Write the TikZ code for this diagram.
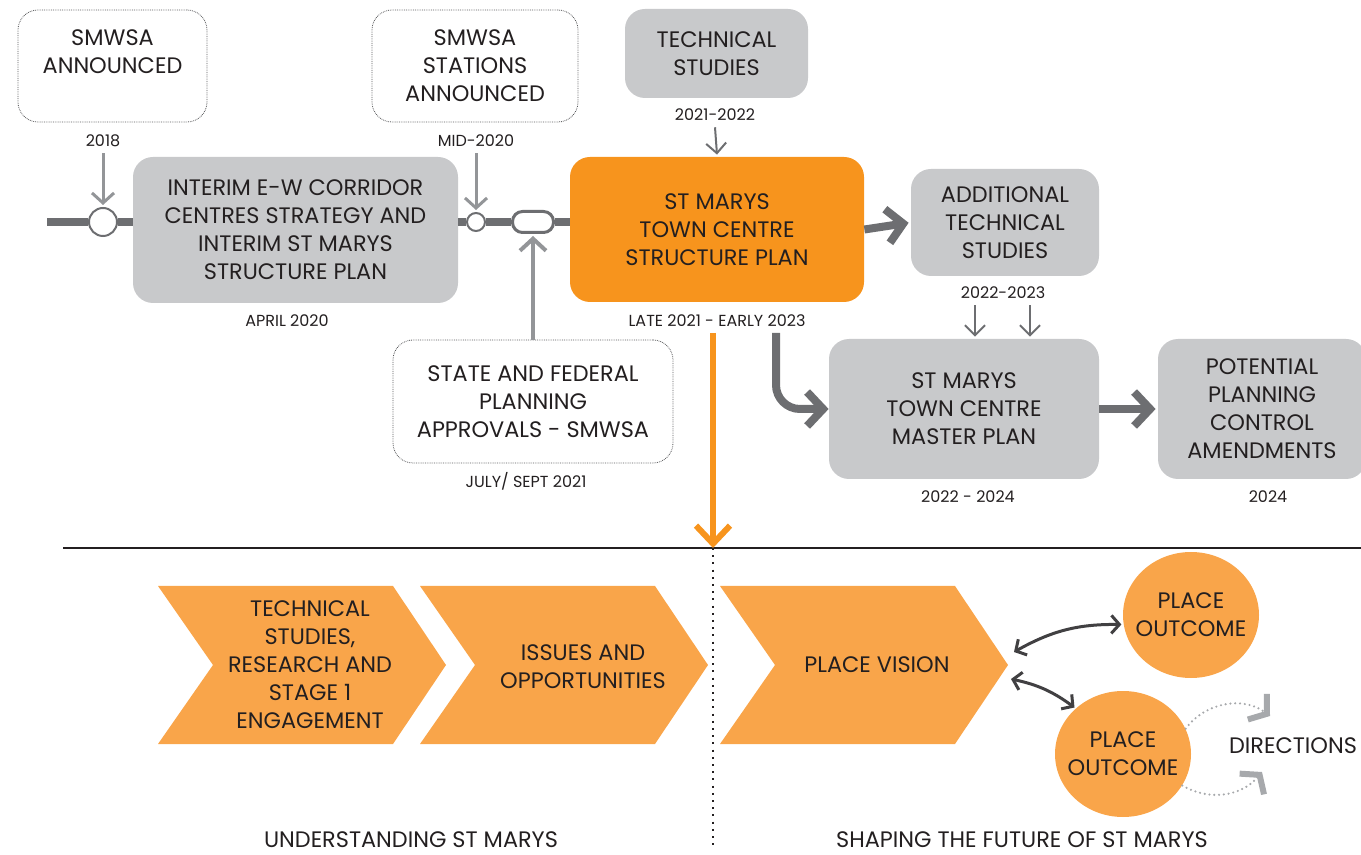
\documentclass[tikz,border=0pt]{standalone}
\usepackage{fontspec}
\setmainfont{Poppins}
\usepackage{tikz}
\usetikzlibrary{arrows.meta,positioning,shapes.geometric}

\definecolor{boxgray}{HTML}{C8C9CB}
\definecolor{dkgray}{HTML}{6D6E71}
\definecolor{midgray}{HTML}{939598}
\definecolor{arcgray}{HTML}{A7A9AC}
\definecolor{dotgray}{HTML}{58595B}
\definecolor{stmorange}{HTML}{F7941D}
\definecolor{chevorange}{HTML}{F9A54A}
\definecolor{txt}{HTML}{231F20}
\definecolor{arrowdark}{HTML}{414042}

\newcommand{\boxfont}{\fontsize{11.2}{14}\selectfont}
\newcommand{\datefont}{\fontsize{8}{9}\selectfont}

\begin{document}
\begin{tikzpicture}[
    x=0.5pt, y=-0.5pt,
    box/.style={rounded corners=10pt, fill=boxgray, align=center, font=\boxfont, text=txt, inner sep=0pt},
    dotbox/.style={box, fill=white, draw=dotgray, line width=0.4pt, dash pattern=on 0.4pt off 0.5pt},
    datelabel/.style={font=\datefont, text=txt, inner sep=0pt},
    stopmark/.style={circle, draw=dkgray, fill=white, line width=1pt, inner sep=0pt},
    timeline/.style={dkgray, line width=4pt},
    bigarrow/.style={dkgray, line width=4pt, -{Straight Barb[length=8pt, width=17pt]}},
    droparrow/.style={midgray, line width=1.5pt, -{Straight Barb[length=5pt, width=11pt]}},
    thinarrow/.style={dkgray, line width=1pt, -{Straight Barb[length=5pt, width=10pt]}},
    orangearrow/.style={stmorange, line width=3pt, -{Straight Barb[length=9pt, width=17pt]}},
    chevtext/.style={align=center, font=\boxfont, text=txt, inner sep=0pt},
    outcome/.style={ellipse, fill=chevorange, align=center, font=\boxfont, text=txt, inner xsep=-6pt, inner ysep=0pt, minimum width=68pt, minimum height=63pt},
    dblarrow/.style={arrowdark, line width=1.5pt, {Straight Barb[length=4pt, width=9pt]}-{Straight Barb[length=4pt, width=9pt]}},
    dirarrow/.style={arcgray, line width=1.2pt, line cap=round, dash pattern=on 0pt off 2.4pt, -{Straight Barb[length=6pt, width=16pt, line width=3pt]}}
  ]
  \useasboundingbox (0,0) rectangle (1361,855);

  % Top row of announcements
  \node[dotbox, minimum width=94.5pt, minimum height=56pt] (annc) at (112.5,66) {SMWSA\\ANNOUNCED\\~};
  \node[dotbox, minimum width=103pt, minimum height=56pt] (stns) at (475,66) {SMWSA\\STATIONS\\ANNOUNCED};
  \node[box, minimum width=91.5pt, minimum height=44.5pt] (tech) at (716.5,53.5) {TECHNICAL\\STUDIES};

  \node[datelabel] (d2018) at (103,141) {2018};
  \node[datelabel] (dmid) at (476,141) {MID-2020};
  \node[datelabel] (d2122) at (715,115) {2021-2022};

  % Timeline nodes
  \coordinate (tlstart) at (47,222);
  \node[stopmark, minimum size=14pt] (stop1) at (103,222) {};
  \node[box, minimum width=162.5pt, minimum height=73pt] (intrm) at (295.5,230) {INTERIM E-W CORRIDOR\\CENTRES STRATEGY AND\\INTERIM ST MARYS\\STRUCTURE PLAN};
  \node[stopmark, minimum size=9pt] (stop2) at (476,222) {};
  \node[draw=dkgray, fill=white, line width=1.5pt, rounded corners=5pt, minimum width=20.5pt, minimum height=10.5pt, inner sep=0pt] (caps) at (533,222) {};
  \node[box, fill=stmorange, minimum width=147pt, minimum height=72.5pt] (orng) at (717,229.5) {ST MARYS\\TOWN CENTRE\\STRUCTURE PLAN};
  \node[box, minimum width=94pt, minimum height=53.5pt] (addl) at (1005,222.5) {ADDITIONAL\\TECHNICAL\\STUDIES};

  \node[datelabel] (dapr) at (287,321) {APRIL 2020};
  \node[datelabel] (dlate) at (717,321) {LATE 2021 - EARLY 2023};
  \node[datelabel] (d2223) at (1003,293) {2022-2023};

  % Lower row
  \node[dotbox, minimum width=140pt, minimum height=61.5pt] (state) at (533,401.5) {STATE AND FEDERAL\\PLANNING\\APPROVALS - SMWSA};
  \node[box, minimum width=135pt, minimum height=70pt] (mastr) at (964,409) {ST MARYS\\TOWN CENTRE\\MASTER PLAN};
  \node[box, minimum width=104pt, minimum height=70pt] (potnl) at (1262,409) {POTENTIAL\\PLANNING\\CONTROL\\AMENDMENTS};

  \node[datelabel] (djul) at (526,481) {JULY/ SEPT 2021};
  \node[datelabel] (d2224) at (968,497) {2022 - 2024};
  \node[datelabel] (d2024) at (1268,497) {2024};

  % Timeline segments
  \draw[timeline] (tlstart) -- (stop1.west);
  \draw[timeline] (stop1.east) -- (stop1.east -| intrm.west);
  \draw[timeline] (stop2.west -| intrm.east) -- (stop2.west);
  \draw[timeline] (stop2.east) -- (caps.west);
  \draw[timeline] (caps.east) -- (caps.east -| orng.west);

  % Arrows into the timeline
  \draw[droparrow] ([yshift=-3pt]d2018.south) -- ([yshift=1pt]stop1.north);
  \draw[droparrow] ([yshift=-3pt]dmid.south) -- ([yshift=1pt]stop2.north);
  \draw[midgray, line width=2pt, -{Straight Barb[length=6pt, width=13pt]}] (state.north) -- ([yshift=-1pt]caps.south);
  \draw[thinarrow] ([yshift=-3pt]d2122.south) -- ([yshift=1pt]orng.north);

  % Edges from the structure plan
  \coordinate (bendstart) at (776,333);
  \coordinate (dropstart) at (713,333);
  \draw[bigarrow, shorten >=1pt] (orng.east) -- (addl.west);
  \draw[bigarrow, rounded corners=12pt] (bendstart) |- (mastr.west);
  \draw[bigarrow, shorten >=1pt] (mastr.east) -- (potnl.west);

  \coordinate (arrA) at (975,0);
  \coordinate (arrB) at (1030,0);
  \draw[thinarrow] ([yshift=-3pt]d2223.south -| arrA) -- ([yshift=1pt]mastr.north -| arrA);
  \draw[thinarrow] ([yshift=-3pt]d2223.south -| arrB) -- ([yshift=1pt]mastr.north -| arrB);

  % Divider
  \coordinate (divL) at (63,548);
  \coordinate (divR) at (1361,548);
  \coordinate (divtop) at (713,548);
  \coordinate (divbot) at (713,848);
  \draw[line width=1.2pt, txt] (divL) -- (divR);
  \draw[line width=1.1pt, txt, dash pattern=on 1pt off 2.6pt] (divtop) -- (divbot);
  \draw[orangearrow] (dropstart) -- (divtop);

  % Chevrons
  \foreach \cx in {158,420,720}
    \fill[chevorange] (\cx,586) -- ++(235,0) -- ++(53,79) -- ++(-53,79) -- ++(-235,0) -- ++(55,-79) -- cycle;

  \node[chevtext] (resrch) at (310,665) {TECHNICAL\\STUDIES,\\RESEARCH AND\\STAGE 1\\ENGAGEMENT};
  \node[chevtext] (issues) at (583,667) {ISSUES AND\\OPPORTUNITIES};
  \node[chevtext] (vision) at (877,665) {PLACE VISION};

  % Outcomes
  \node[outcome] (outA) at (1191,615) {PLACE\\OUTCOME};
  \node[outcome] (outB) at (1123,754) {PLACE\\OUTCOME};
  \node[chevtext] (dirs) at (1293,746) {DIRECTIONS};

  \coordinate (visA) at (1014,652);
  \coordinate (visB) at (1011,679);
  \draw[dblarrow] (visA) to[bend left=15] ([xshift=-1pt]outA.188);
  \draw[dblarrow] (visB) to[bend left=12] ([xshift=-1pt]outB.135);

  \coordinate (dirA) at (1270,716);
  \coordinate (dirB) at (1262,772);
  \draw[dirarrow] (outB.22) to[bend left=45] (dirA);
  \draw[dirarrow] (outB.-28) to[bend right=40] (dirB);

  % Section titles
  \node[chevtext] (undst) at (411,840) {UNDERSTANDING ST MARYS};
  \node[chevtext] (shape) at (1022,840) {SHAPING THE FUTURE OF ST MARYS};

\end{tikzpicture}
\end{document}
